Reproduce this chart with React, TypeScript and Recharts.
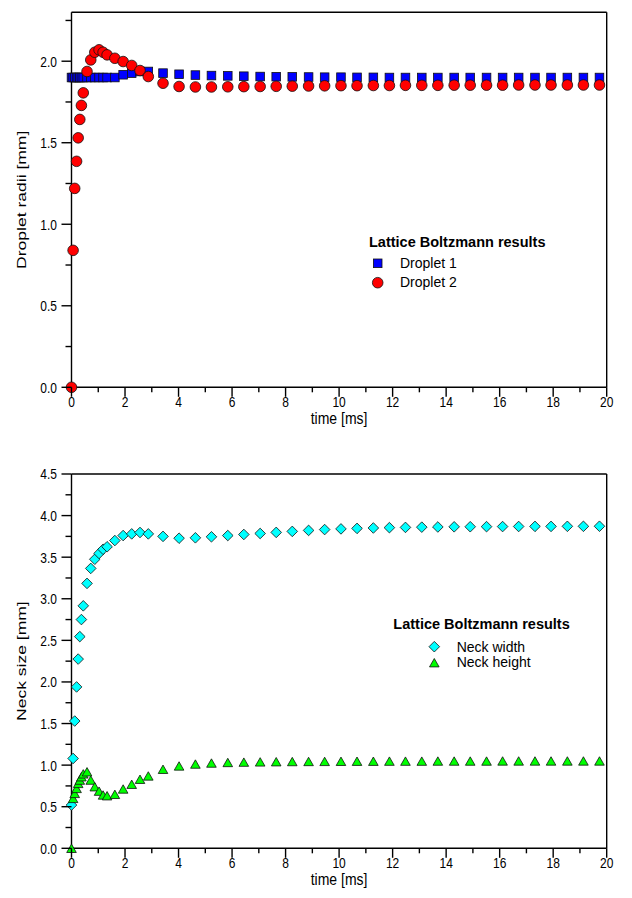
import React from 'react';
import { ScatterChart, Scatter, XAxis, YAxis } from 'recharts';

// ---------------- data ----------------
const TIME = [
  0, 0.06, 0.12, 0.19, 0.25, 0.31, 0.37, 0.44, 0.58, 0.72,
  0.87, 1.03, 1.18, 1.33, 1.62, 1.93, 2.25, 2.56, 2.87, 3.42,
  4.02, 4.63, 5.23, 5.84, 6.44, 7.05, 7.65, 8.25, 8.86, 9.46,
  10.07, 10.67, 11.28, 11.88, 12.48, 13.09, 13.69, 14.3, 14.9, 15.51,
  16.11, 16.71, 17.32, 17.92, 18.53, 19.13, 19.73,
];

const DROPLET_1 = [
  1.9, 1.9, 1.9, 1.9, 1.9, 1.9, 1.9, 1.9, 1.9, 1.9,
  1.9, 1.9, 1.9, 1.9, 1.9, 1.917, 1.927, 1.937, 1.937, 1.927,
  1.92, 1.915, 1.912, 1.91, 1.908, 1.906, 1.905, 1.904, 1.903, 1.902,
  1.902, 1.901, 1.901, 1.9, 1.9, 1.9, 1.9, 1.9, 1.9, 1.9,
  1.9, 1.9, 1.9, 1.9, 1.9, 1.9, 1.9,
];

const DROPLET_2 = [
  0, 0.84, 1.22, 1.386, 1.53, 1.643, 1.729, 1.806, 1.937, 2.008,
  2.055, 2.07, 2.055, 2.039, 2.018, 1.998, 1.974, 1.943, 1.906, 1.865,
  1.845, 1.842, 1.842, 1.843, 1.844, 1.845, 1.846, 1.847, 1.848, 1.849,
  1.85, 1.85, 1.851, 1.851, 1.852, 1.852, 1.852, 1.853, 1.853, 1.853,
  1.853, 1.854, 1.854, 1.854, 1.854, 1.854, 1.854,
];

const NECK_WIDTH = [
  0.52, 1.08, 1.53, 1.94, 2.275, 2.545, 2.75, 2.915, 3.185, 3.365,
  3.475, 3.545, 3.595, 3.625, 3.7, 3.76, 3.78, 3.797, 3.78, 3.75,
  3.728, 3.733, 3.745, 3.76, 3.773, 3.785, 3.798, 3.81, 3.822, 3.832,
  3.84, 3.846, 3.851, 3.855, 3.858, 3.861, 3.863, 3.865, 3.866, 3.867,
  3.868, 3.869, 3.87, 3.87, 3.871, 3.871, 3.872,
];

const NECK_HEIGHT = [
  0, 0.6, 0.66, 0.72, 0.78, 0.82, 0.86, 0.895, 0.92, 0.82,
  0.74, 0.687, 0.641, 0.632, 0.649, 0.713, 0.77, 0.83, 0.87, 0.95,
  0.99, 1.013, 1.025, 1.032, 1.036, 1.039, 1.041, 1.043, 1.044, 1.045,
  1.046, 1.047, 1.047, 1.048, 1.048, 1.048, 1.049, 1.049, 1.049, 1.049,
  1.05, 1.05, 1.05, 1.05, 1.05, 1.05, 1.05,
];

const X_TICKS = [0, 1, 2, 3, 4, 5, 6, 7, 8, 9, 10, 11, 12, 13, 14, 15, 16, 17, 18, 19, 20];
const Y_TICKS_TOP = [0, 0.25, 0.5, 0.75, 1, 1.25, 1.5, 1.75, 2, 2.25];
const Y_TICKS_TOP_RIGHT = [0, 0.25, 0.5, 0.75, 1, 1.25, 1.5, 1.75, 2, 2.25, 2.5];
const Y_TICKS_BOTTOM = [0, 0.25, 0.5, 0.75, 1, 1.25, 1.5, 1.75, 2, 2.25, 2.5, 2.75, 3, 3.25, 3.5, 3.75, 4, 4.25, 4.5];

const LEGEND_TITLE = 'Lattice Boltzmann results';
const TOP_SERIES_NAMES = ['Droplet 1', 'Droplet 2'];
const BOTTOM_SERIES_NAMES = ['Neck width', 'Neck height'];

// ---------------- styling ----------------
const FONT = '"Liberation Sans", Arial, Helvetica, sans-serif';
const SW = 1.4;
const AXIS_LINE = { stroke: '#000', strokeWidth: SW };

const toPoints = (vals: number[]) => TIME.map((t, i) => ({ t, v: vals[i] }));

const isMajorX = (v: number) => Math.abs(v % 2) < 1e-9;
const isMajorY = (v: number) => Math.abs(v * 2 - Math.round(v * 2)) < 1e-9;

const BottomTick = (p: any) => {
  const { x, y, payload } = p;
  const v = payload.value;
  const major = isMajorX(v);
  return (
    <g>
      <line x1={x} x2={x} y1={y} y2={y + (major ? 9.5 : 5)} stroke="#000" strokeWidth={SW} />
      {major && (
        <text transform={`translate(${x},${y + 14}) scale(1,1.25)`} textAnchor="middle" dy="0.36em" fontSize={12} fontFamily={FONT} fill="#000">
          {v}
        </text>
      )}
    </g>
  );
};

const TopTick = (p: any) => {
  const { x, y, payload } = p;
  const major = isMajorX(payload.value);
  return <line x1={x} x2={x} y1={y} y2={y + (major ? 9.5 : 4.5)} stroke="#000" strokeWidth={SW} />;
};

const LeftTick = (p: any) => {
  const { x, y, payload } = p;
  const v = payload.value;
  const major = isMajorY(v);
  return (
    <g>
      <line x1={x - (major ? 10 : 6)} x2={x} y1={y} y2={y} stroke="#000" strokeWidth={SW} />
      {major && (
        <text transform={`translate(${x - 14.5},${y}) scale(1,1.25)`} textAnchor="end" dy="0.36em" fontSize={12} fontFamily={FONT} fill="#000">
          {v.toFixed(1)}
        </text>
      )}
    </g>
  );
};

const RightTick = (p: any) => {
  const { x, y, payload } = p;
  const major = isMajorY(payload.value);
  return <line x1={x - (major ? 9.5 : 5)} x2={x} y1={y} y2={y} stroke="#000" strokeWidth={SW} />;
};

// ---------------- marker shapes ----------------
const OUT = '#111';
const squareShape = (p: any) => (
  <rect x={p.cx - 4.3} y={p.cy - 4.3} width={8.6} height={8.6} fill="#0000FF" stroke={OUT} strokeWidth={0.8} />
);
const circleShape = (p: any) => (
  <circle cx={p.cx} cy={p.cy} r={5.3} fill="#FF0000" stroke={OUT} strokeWidth={0.8} />
);
const diamondPath = (cx: number, cy: number, r: number) =>
  `M${cx},${cy - r} L${cx + r},${cy} L${cx},${cy + r} L${cx - r},${cy} Z`;
const trianglePath = (cx: number, cy: number, w: number, h: number) =>
  `M${cx},${cy - h / 2} L${cx + w / 2},${cy + h / 2} L${cx - w / 2},${cy + h / 2} Z`;
const diamondShape = (p: any) => (
  <path d={diamondPath(p.cx, p.cy, 5.3)} fill="#00FFFF" stroke={OUT} strokeWidth={0.8} />
);
const triangleShape = (p: any) => (
  <path d={trianglePath(p.cx, p.cy, 9.6, 8.4)} fill="#00FF00" stroke={OUT} strokeWidth={0.8} />
);

// ---------------- chart ----------------
type PanelProps = {
  top: number;
  plotTop: number;
  plotBottom: number;
  yDomain: [number, number];
  yTicks: number[];
  rDomain: [number, number];
  rTicks: number[];
  children: React.ReactNode;
};

const W = 632;
const H = 449;
const LEFT = 71.5;
const RIGHT = 606.7;
const AX = 1; // thickness reserved by each axis

const Panel = ({ top, plotTop, plotBottom, yDomain, yTicks, rDomain, rTicks, children }: PanelProps) => (
  <div style={{ position: 'absolute', left: 0, top }}>
    <ScatterChart
      width={W}
      height={H}
      margin={{ top: plotTop - AX, right: W - RIGHT - AX, bottom: H - plotBottom - AX, left: LEFT - AX }}
    >
      <XAxis
        xAxisId="b"
        dataKey="t"
        type="number"
        domain={[0, 20]}
        ticks={X_TICKS}
        interval={0}
        height={AX}
        tickSize={0}
        tickMargin={0}
        tickLine={false}
        axisLine={AXIS_LINE}
        tick={(p: any) => <BottomTick {...p} />}
      />
      <XAxis
        xAxisId="t"
        orientation="top"
        type="number"
        domain={[0, 20]}
        ticks={X_TICKS}
        interval={0}
        height={AX}
        tickSize={0}
        tickMargin={0}
        tickLine={false}
        axisLine={AXIS_LINE}
        tick={(p: any) => <TopTick {...p} />}
      />
      <YAxis
        yAxisId="l"
        dataKey="v"
        type="number"
        domain={yDomain}
        ticks={yTicks}
        interval={0}
        width={AX}
        tickSize={0}
        tickMargin={0}
        tickLine={false}
        axisLine={AXIS_LINE}
        tick={(p: any) => <LeftTick {...p} />}
      />
      <YAxis
        yAxisId="r"
        orientation="right"
        type="number"
        domain={rDomain}
        ticks={rTicks}
        interval={0}
        width={AX}
        tickSize={0}
        tickMargin={0}
        tickLine={false}
        axisLine={AXIS_LINE}
        tick={(p: any) => <RightTick {...p} />}
      />
      {children}
    </ScatterChart>
  </div>
);

const textStyle = { fontFamily: FONT, fill: '#000' } as const;

export default function App() {
  const topPlotTop = 12.3;
  const topPlotBottom = 387.3;
  const botPlotTop = 25; // page y 474
  const botPlotBottom = 399.3; // page y 848.3
  const midX = (LEFT + RIGHT) / 2;

  return (
    <div style={{ position: 'absolute', left: 0, top: 0, width: W, height: 898, background: '#fff' }}>
      <Panel
        top={0}
        plotTop={topPlotTop}
        plotBottom={topPlotBottom}
        yDomain={[0, 2.3]}
        yTicks={Y_TICKS_TOP}
        rDomain={[0, 2.5]}
        rTicks={Y_TICKS_TOP_RIGHT}
      >
        <Scatter name={TOP_SERIES_NAMES[0]} xAxisId="b" yAxisId="l" data={toPoints(DROPLET_1)} shape={squareShape} isAnimationActive={false} />
        <Scatter name={TOP_SERIES_NAMES[1]} xAxisId="b" yAxisId="l" data={toPoints(DROPLET_2)} shape={circleShape} isAnimationActive={false} />
      </Panel>
      <svg width={W} height={H} style={{ position: 'absolute', left: 0, top: 0, pointerEvents: 'none' }}>
        <text transform={`translate(${midX},${topPlotBottom + 30.5}) scale(1,1.2)`} textAnchor="middle" dy="0.36em" fontSize={14} style={textStyle}>
          time [ms]
        </text>
        <text transform={`translate(21,${(topPlotTop + topPlotBottom) / 2}) rotate(-90) scale(1.28,1)`} textAnchor="middle" dy="0.36em" fontSize={13.7} style={textStyle}>
          Droplet radii [mm]
        </text>
        <text x={369} y={246.7} fontSize={14.5} fontWeight="bold" style={textStyle}>{LEGEND_TITLE}</text>
        <rect x={377.7 - 4.3} y={263.3 - 4.3} width={8.6} height={8.6} fill="#0000FF" stroke={OUT} strokeWidth={0.8} />
        <text x={400} y={267.5} fontSize={14} style={textStyle}>{TOP_SERIES_NAMES[0]}</text>
        <circle cx={377.7} cy={282.7} r={5.3} fill="#FF0000" stroke={OUT} strokeWidth={0.8} />
        <text x={400} y={287} fontSize={14} style={textStyle}>{TOP_SERIES_NAMES[1]}</text>
      </svg>

      <Panel
        top={H}
        plotTop={botPlotTop}
        plotBottom={botPlotBottom}
        yDomain={[0, 4.5]}
        yTicks={Y_TICKS_BOTTOM}
        rDomain={[0, 4.5]}
        rTicks={Y_TICKS_BOTTOM}
      >
        <Scatter name={BOTTOM_SERIES_NAMES[0]} xAxisId="b" yAxisId="l" data={toPoints(NECK_WIDTH)} shape={diamondShape} isAnimationActive={false} />
        <Scatter name={BOTTOM_SERIES_NAMES[1]} xAxisId="b" yAxisId="l" data={toPoints(NECK_HEIGHT)} shape={triangleShape} isAnimationActive={false} />
      </Panel>
      <svg width={W} height={H} style={{ position: 'absolute', left: 0, top: H, pointerEvents: 'none' }}>
        <text transform={`translate(${midX},${botPlotBottom + 30.5}) scale(1,1.2)`} textAnchor="middle" dy="0.36em" fontSize={14} style={textStyle}>
          time [ms]
        </text>
        <text transform={`translate(21,${(botPlotTop + botPlotBottom) / 2}) rotate(-90) scale(1.28,1)`} textAnchor="middle" dy="0.36em" fontSize={13.7} style={textStyle}>
          Neck size [mm]
        </text>
        <text x={393.3} y={629.3 - H} fontSize={14.5} fontWeight="bold" style={textStyle}>{LEGEND_TITLE}</text>
        <path d={diamondPath(434.3, 646.7 - H, 5.3)} fill="#00FFFF" stroke={OUT} strokeWidth={0.8} />
        <text x={456.7} y={651.7 - H} fontSize={14} style={textStyle}>{BOTTOM_SERIES_NAMES[0]}</text>
        <path d={trianglePath(434.3, 662.7 - H, 9.6, 8.4)} fill="#00FF00" stroke={OUT} strokeWidth={0.8} />
        <text x={456.7} y={667 - H} fontSize={14} style={textStyle}>{BOTTOM_SERIES_NAMES[1]}</text>
      </svg>
    </div>
  );
}
